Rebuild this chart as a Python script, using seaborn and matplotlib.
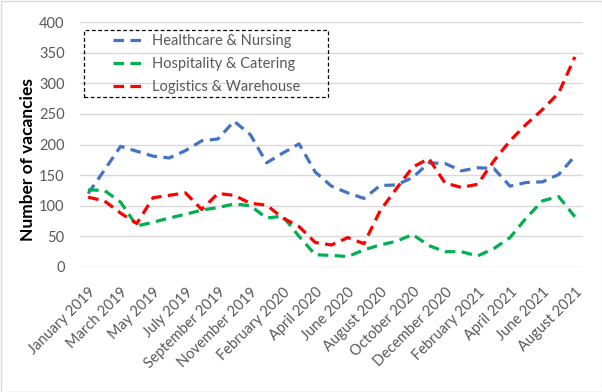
import matplotlib
matplotlib.use("Agg")
import matplotlib.pyplot as plt
from matplotlib.patches import Rectangle
import seaborn as sns
import pandas as pd

months = ["January 2019", "February 2019", "March 2019", "April 2019", "May 2019",
          "June 2019", "July 2019", "August 2019", "September 2019", "October 2019",
          "November 2019", "December 2019", "February 2020", "March 2020", "April 2020",
          "May 2020", "June 2020", "July 2020", "August 2020", "September 2020",
          "October 2020", "November 2020", "December 2020", "January 2021",
          "February 2021", "March 2021", "April 2021", "May 2021", "June 2021",
          "July 2021", "August 2021"]

healthcare = [120, 158, 197, 189, 181, 178, 190, 206, 209, 238, 216, 170, 186, 201, 155,
              132, 121, 112, 133, 134, 146, 170, 169, 157, 162, 161, 132, 138, 139, 151, 181]
hospitality = [126, 125, 106, 67, 73, 80, 86, 93, 97, 103, 100, 80, 83, 50, 20,
               19, 17, 28, 36, 42, 53, 35, 25, 25, 18, 30, 48, 80, 108, 115, 82]
logistics = [114, 108, 88, 71, 113, 117, 121, 94, 120, 117, 104, 101, 80, 66, 40,
             36, 48, 38, 92, 128, 163, 177, 137, 130, 135, 173, 206, 233, 257, 284, 343]

series_names = ["Healthcare & Nursing", "Hospitality & Catering", "Logistics & Warehouse"]
colors = ["#4472C4", "#00B050", "#FF0000"]

y_ticks = [0, 50, 100, 150, 200, 250, 300, 350, 400]

frames = []
for name, vals in zip(series_names, [healthcare, hospitality, logistics]):
    frames.append(pd.DataFrame({"idx": range(len(months)), "month": months,
                                "value": vals, "series": name}))
df = pd.concat(frames, ignore_index=True)

sns.set_theme(style="white")
plt.rcParams["font.family"] = ["Lato", "DejaVu Sans"]

fig = plt.figure(figsize=(6.02, 3.92), dpi=100)
ax = fig.add_axes([80 / 602, 1 - 267 / 392, 503 / 602, 245 / 392])

sns.lineplot(data=df, x="idx", y="value", hue="series", style="series",
             hue_order=series_names, style_order=series_names,
             palette=colors, dashes=[(3.3, 2.0)] * 3, linewidth=2.3, ax=ax,
             sort=False)

ax.set_xlim(-0.5, len(months) - 0.5)
ax.set_ylim(0, 400)
ax.set_yticks(y_ticks)
ax.set_yticklabels([str(v) for v in y_ticks])
tick_pos = list(range(0, len(months), 2))
ax.set_xticks(tick_pos)
ax.set_xticklabels([months[i] for i in tick_pos], rotation=45, ha="right",
                   rotation_mode="anchor")
ax.tick_params(axis="both", length=0, labelsize=10.5, colors="#595959")
ax.tick_params(axis="y", pad=11)
ax.tick_params(axis="x", pad=13)
ax.grid(axis="y", color="#d9d9d9", linewidth=1)
ax.set_axisbelow(True)
for s in ax.spines.values():
    s.set_visible(False)
ax.set_xlabel("")
ax.set_ylabel("Number of vacancies", fontsize=12.5, fontweight="bold", color="black")
ax.yaxis.set_label_coords(-0.088, 0.44)

leg = ax.legend(loc="upper left", bbox_to_anchor=(0.0656, 0.950), borderaxespad=0,
                fontsize=10.5, frameon=False, handlelength=2.3,
                labelspacing=0.62, borderpad=0, handletextpad=0.4)
for t in leg.get_texts():
    t.set_color("#595959")

ax.add_patch(Rectangle((0.008, 0.694), 0.485, 0.273, transform=ax.transAxes,
                       fill=False, edgecolor="black", linewidth=0.9,
                       linestyle=(0, (3, 2)), zorder=5))

fig.patches.append(Rectangle((0.5 / 602, 0.5 / 392), 1 - 1 / 602, 1 - 1 / 392,
                             transform=fig.transFigure, fill=False,
                             edgecolor="#d9d9d9", linewidth=1))

fig.savefig("out.png", dpi=100)
